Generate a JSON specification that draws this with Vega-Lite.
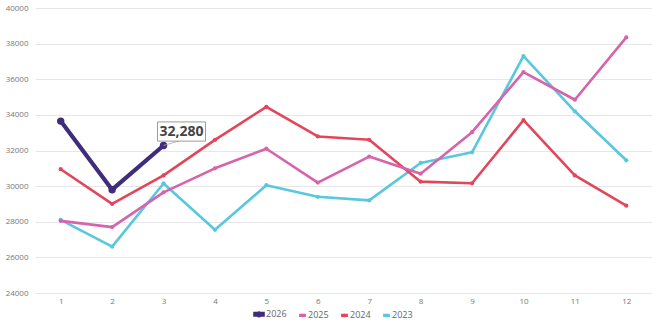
{
  "$schema": "https://vega.github.io/schema/vega-lite/v6.json",
  "width": 652,
  "height": 322,
  "autosize": {"type": "fit", "contains": "padding"},
  "padding": {"left": 5, "top": 4, "right": 0, "bottom": 17},
  "background": "white",
  "config": {
    "view": {"stroke": null},
    "font": "Open Sans",
    "axis": {"labelFont": "Open Sans", "labelColor": "#777777", "labelFontSize": 8, "labelOverlap": false}
  },
  "datasets": {
    "sales": [
      {"month": 1, "year": "2023", "value": 28100},
      {"month": 2, "year": "2023", "value": 26600},
      {"month": 3, "year": "2023", "value": 30150},
      {"month": 4, "year": "2023", "value": 27550},
      {"month": 5, "year": "2023", "value": 30050},
      {"month": 6, "year": "2023", "value": 29400},
      {"month": 7, "year": "2023", "value": 29200},
      {"month": 8, "year": "2023", "value": 31300},
      {"month": 9, "year": "2023", "value": 31900},
      {"month": 10, "year": "2023", "value": 37300},
      {"month": 11, "year": "2023", "value": 34200},
      {"month": 12, "year": "2023", "value": 31450},
      {"month": 1, "year": "2024", "value": 30950},
      {"month": 2, "year": "2024", "value": 29000},
      {"month": 3, "year": "2024", "value": 30600},
      {"month": 4, "year": "2024", "value": 32600},
      {"month": 5, "year": "2024", "value": 34450},
      {"month": 6, "year": "2024", "value": 32790},
      {"month": 7, "year": "2024", "value": 32600},
      {"month": 8, "year": "2024", "value": 30250},
      {"month": 9, "year": "2024", "value": 30160},
      {"month": 10, "year": "2024", "value": 33700},
      {"month": 11, "year": "2024", "value": 30600},
      {"month": 12, "year": "2024", "value": 28900},
      {"month": 1, "year": "2025", "value": 28050},
      {"month": 2, "year": "2025", "value": 27700},
      {"month": 3, "year": "2025", "value": 29650},
      {"month": 4, "year": "2025", "value": 31000},
      {"month": 5, "year": "2025", "value": 32100},
      {"month": 6, "year": "2025", "value": 30200},
      {"month": 7, "year": "2025", "value": 31660},
      {"month": 8, "year": "2025", "value": 30700},
      {"month": 9, "year": "2025", "value": 33030},
      {"month": 10, "year": "2025", "value": 36400},
      {"month": 11, "year": "2025", "value": 34850},
      {"month": 12, "year": "2025", "value": 38350},
      {"month": 1, "year": "2026", "value": 33650},
      {"month": 2, "year": "2026", "value": 29800},
      {"month": 3, "year": "2026", "value": 32280}
    ],
    "note": [
      {"month": 3, "value": 32280, "month2": 3.33, "value2": 32560, "label": "32,280"}
    ]
  },
  "encoding": {
    "x": {
      "field": "month", "type": "quantitative",
      "scale": {"domain": [0.5, 12.5], "nice": false, "zero": false},
      "axis": {"title": null, "values": [1,2,3,4,5,6,7,8,9,10,11,12], "grid": false, "domain": false, "ticks": false, "labelPadding": 4, "format": "d", "labelOverlap": false}
    },
    "y": {
      "field": "value", "type": "quantitative",
      "scale": {"domain": [24000, 40000], "nice": false, "zero": false},
      "axis": {"title": null, "tickCount": 9, "values": [24000,26000,28000,30000,32000,34000,36000,38000,40000], "format": "d", "domain": false, "ticks": false, "labelPadding": 7, "labelOverlap": false, "labelBound": false, "gridColor": "#e6e6e6", "gridWidth": 1}
    }
  },
  "layer": [
    {
      "data": {"name": "sales"},
      "mark": {"type": "line", "strokeJoin": "round", "strokeCap": "round"},
      "encoding": {
        "color": {
          "field": "year", "type": "nominal",
          "scale": {"domain": ["2026", "2025", "2024", "2023"], "range": ["#3f2d7c", "#d663ab", "#e2465a", "#59c7de"]},
          "legend": {
            "title": null, "orient": "none", "legendX": 218, "legendY": 300, "direction": "horizontal",
            "symbolType": "M-1,-0.12L1,-0.12L1,0.12L-1,0.12Z M-0.28,0A0.28,0.28 0 1,1 0.28,0A0.28,0.28 0 1,1 -0.28,0Z",
            "symbolSize": 256, "symbolStrokeWidth": 0,
            "labelFontSize": 9, "labelColor": "#666666", "labelFont": "Open Sans",
            "labelOffset": 1, "columnPadding": 8, "padding": 0,
            "encode": {"symbols": {"update": {"fill": {"scale": "color", "field": "value"}, "fillOpacity": {"value": 1}}}}
          }
        },
        "strokeWidth": {
          "field": "year", "type": "nominal",
          "scale": {"type": "ordinal", "domain": ["2026", "2025", "2024", "2023"], "range": [4.2, 2.6, 2.6, 2.6]},
          "legend": null
        },
        "order": {"field": "month"}
      }
    },
    {
      "data": {"name": "sales"},
      "mark": {"type": "circle", "opacity": 1},
      "encoding": {
        "color": {"field": "year", "type": "nominal", "legend": null},
        "size": {
          "field": "year", "type": "nominal",
          "scale": {"type": "ordinal", "domain": ["2026", "2025", "2024", "2023"], "range": [55, 18, 18, 18]},
          "legend": null
        }
      }
    },
    {
      "data": {"name": "note"},
      "mark": {"type": "rule", "color": "#aaaaaa", "strokeWidth": 0.8},
      "encoding": {
        "x2": {"field": "month2"},
        "y2": {"field": "value2"}
      }
    },
    {
      "data": {"name": "note"},
      "mark": {"type": "point", "shape": "M-1,-0.4L1,-0.4L1,0.4L-1,0.4Z", "size": 2304, "filled": true, "fill": "white", "stroke": "#9a9a9a", "strokeWidth": 1, "opacity": 1, "xOffset": 18, "yOffset": -14},
      "encoding": {}
    },
    {
      "data": {"name": "note"},
      "mark": {"type": "text", "font": "Open Sans", "fontWeight": "bold", "fontSize": 14, "color": "#444444", "dx": 18, "dy": -14, "align": "center", "baseline": "middle"},
      "encoding": {
        "text": {"field": "label"}
      }
    }
  ]
}
